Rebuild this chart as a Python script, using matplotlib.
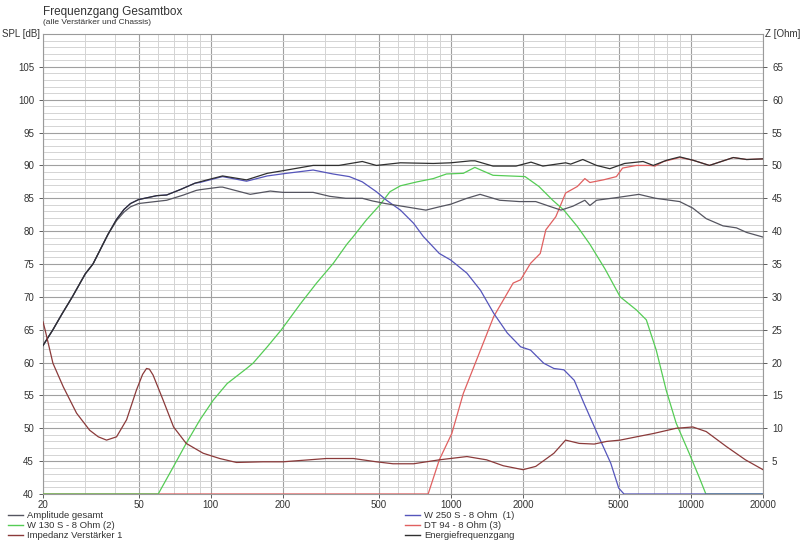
import matplotlib
matplotlib.use("Agg")
import matplotlib.pyplot as plt
from matplotlib.lines import Line2D
from matplotlib.ticker import FixedLocator, NullFormatter

plt.rcParams['font.family'] = ['Liberation Sans', 'DejaVu Sans']

# ---------------- data ----------------
xtick_vals = [20, 50, 100, 200, 500, 1000, 2000, 5000, 10000, 20000]
xtick_labels = ["20", "50", "100", "200", "500", "1000", "2000", "5000", "10000", "20000"]
spl_ticks = [40, 45, 50, 55, 60, 65, 70, 75, 80, 85, 90, 95, 100, 105]
z_ticks = [5, 10, 15, 20, 25, 30, 35, 40, 45, 50, 55, 60, 65]

# Energiefrequenzgang (upper total)
energie_f = [20, 22, 24, 26.5, 30, 32.3, 34, 37.3, 40.5, 43.5, 46.3, 50, 59.6, 65.5, 74.4, 86, 90, 99, 112, 141, 172, 200,
             267, 342, 428, 490, 617, 846, 1000, 1212, 1262, 1500, 1870, 2160, 2420, 3010, 3160, 3550,
             4050, 4600, 5300, 6330, 6980, 7950, 9000, 10200, 11960, 15040, 17100, 20000]
energie_db = [62.6, 65.0, 67.4, 70.0, 73.5, 75.0, 76.6, 79.5, 81.8, 83.3, 84.2, 84.8, 85.4, 85.5, 86.3, 87.3, 87.5, 87.9, 88.4,
              87.8, 88.8, 89.2, 90.0, 90.0, 90.6, 90.0, 90.4, 90.3, 90.4, 90.7, 90.7, 89.9, 89.9, 90.5, 89.9,
              90.4, 90.2, 90.9, 90.0, 89.5, 90.3, 90.6, 90.0, 90.8, 91.3, 90.8, 90.0, 91.2, 90.9, 91.0]

# Amplitude gesamt (lower total)
amp_f = [20, 22, 24, 26.5, 30, 32.3, 34, 37.3, 40.5, 43.5, 46.3, 50, 65.5, 77, 87, 90, 109, 112, 146, 177, 200, 267, 313,
         365, 428, 471, 534, 650, 788, 896, 1000, 1168, 1325, 1600, 1930, 2260, 2570, 2880, 3230, 3620,
         3800, 4050, 4900, 6080, 7130, 8990, 10200, 11600, 13630, 15500, 17100, 20000]
amp_db = [62.6, 65.0, 67.4, 70.0, 73.5, 75.0, 76.6, 79.5, 81.6, 82.9, 83.7, 84.2, 84.7, 85.5, 86.2, 86.3, 86.7, 86.7, 85.6,
          86.1, 85.9, 85.9, 85.3, 85.0, 85.0, 84.6, 84.2, 83.7, 83.2, 83.7, 84.1, 85.0, 85.6, 84.7, 84.5,
          84.5, 83.8, 83.2, 83.8, 84.7, 83.9, 84.7, 85.1, 85.6, 85.0, 84.5, 83.5, 81.9, 80.8, 80.5, 79.8, 79.1]

# W 250 S - 8 Ohm (1)
w250_f = [20, 22, 24, 26.5, 30, 32.3, 34, 37.3, 40.5, 43.5, 46.3, 50, 59.6, 65.5, 74.4, 86, 90, 99, 112, 141, 172, 207,
          267, 323, 378, 428, 490, 540, 617, 700, 768, 896, 1000, 1168, 1330, 1510, 1720, 1955, 2150,
          2440, 2690, 2960, 3270, 3590, 4080, 4640, 5010, 5270, 20000]
w250_db = [62.6, 65.0, 67.4, 70.0, 73.5, 75.0, 76.6, 79.5, 81.8, 83.3, 84.2, 84.8, 85.4, 85.5, 86.3, 87.3, 87.4, 87.8, 88.3,
           87.6, 88.4, 88.8, 89.3, 88.7, 88.3, 87.5, 86.0, 84.7, 83.2, 81.2, 79.2, 76.6, 75.6, 73.6, 71.0,
           67.5, 64.5, 62.4, 61.9, 59.9, 59.1, 58.9, 57.3, 53.8, 49.2, 44.7, 40.9, 40.0, 40.0]

# W 130 S - 8 Ohm (2)
w130_f = [20, 60.4, 70, 79, 90.2, 102.5, 117, 141, 150, 172, 197, 237, 276, 324, 369, 393, 445, 507, 558,
          617, 724, 846, 960, 1128, 1260, 1500, 2040, 2330, 2660, 2960, 3370, 3800, 4400, 5080, 5940,
          6530, 7180, 7900, 8690, 9850, 10830, 11560, 20000]
w130_db = [40.0, 40.0, 44.2, 47.7, 51.3, 54.3, 56.8, 59.1, 59.9, 62.4, 65.0, 69.0, 72.1, 75.1, 78.0, 79.2,
           81.7, 84.0, 86.0, 86.9, 87.5, 88.0, 88.7, 88.8, 89.7, 88.5, 88.3, 86.8, 84.7, 83.2, 80.7, 78.0,
           74.2, 70.0, 68.0, 66.5, 61.9, 55.8, 50.8, 46.2, 42.6, 40.0, 40.0]

# DT 94 - 8 Ohm (3)
dt94_f = [20, 805, 896, 1010, 1128, 1330, 1510, 1655, 1820, 1955, 2150, 2360, 2490, 2740, 3010, 3370,
          3620, 3800, 4320, 4900, 5200, 5940, 6750, 7100, 7700, 9000, 10200, 11960, 15040, 17100, 20000]
dt94_db = [40.0, 40.0, 45.2, 49.2, 55.3, 61.9, 67.0, 69.5, 72.1, 72.6, 75.1, 76.6, 80.2, 82.2, 85.8, 86.8,
           88.0, 87.4, 87.8, 88.3, 89.6, 90.0, 90.0, 89.9, 90.6, 91.2, 90.8, 90.0, 91.2, 90.9, 91.0]

# Impedanz Verstärker 1 (Ohm, right axis)
imp_f = [20, 20.4, 22, 24.3, 27.6, 31.3, 34, 36.8, 40.5, 44.6, 49, 52, 54, 55.5, 57.5, 63.3, 70, 79, 93, 109,
         128, 165, 200, 303, 393, 490, 575, 700, 896, 1168, 1410, 1655, 2000, 2260, 2690, 3010, 3430, 3960,
         4460, 5080, 5940, 6980, 8690, 10200, 11600, 14100, 16900, 20000]
imp_ohm = [26.2, 25.0, 19.9, 16.3, 12.3, 9.7, 8.7, 8.2, 8.7, 11.3, 15.8, 18.2, 19.1, 19.0, 18.1, 14.3, 10.2,
           7.7, 6.2, 5.4, 4.8, 4.9, 4.9, 5.4, 5.4, 4.9, 4.6, 4.6, 5.2, 5.7, 5.2, 4.3, 3.7, 4.2, 6.2, 8.2,
           7.7, 7.6, 8.0, 8.2, 8.7, 9.2, 10.0, 10.2, 9.5, 7.2, 5.2, 3.7]

# ---------------- figure ----------------
fig = plt.figure(figsize=(8.0, 5.42), dpi=100)
fig.patch.set_facecolor("white")
ax = fig.add_axes([43 / 800, 1 - 494 / 542, 720 / 800, 460 / 542])
ax.set_xscale("log")
ax.set_xlim(20, 20000)
ax.set_ylim(40, 110)

minor_x = [f * m for f in (10, 100, 1000, 10000) for m in range(2, 10)]
minor_x = [v for v in minor_x if 20 < v < 20000 and v not in xtick_vals]
ax.xaxis.set_major_locator(FixedLocator(xtick_vals))
ax.set_xticklabels(xtick_labels)
ax.xaxis.set_minor_locator(FixedLocator(minor_x))
ax.xaxis.set_minor_formatter(NullFormatter())
ax.yaxis.set_major_locator(FixedLocator(spl_ticks))
ax.yaxis.set_minor_locator(FixedLocator([v for v in range(40, 111) if v % 5 != 0]))

ax.grid(which="major", color="#a0a0a0", linewidth=0.8)
ax.grid(which="minor", color="#d4d4d4", linewidth=0.7)
ax.set_axisbelow(True)
ax.tick_params(which="major", labelsize=7, colors="#444444", length=3, width=0.6, labelcolor="#333333")
ax.tick_params(axis="x", which="major", pad=1.5)
ax.tick_params(which="minor", length=0)
for s in ax.spines.values():
    s.set_color("#9a9a9a")
    s.set_linewidth(0.8)

ax.plot(dt94_f, dt94_db, color="#e06060", lw=0.9, zorder=3)
ax.plot(w130_f, w130_db, color="#55cc55", lw=0.9, zorder=4)
ax.plot(w250_f, w250_db, color="#5555bb", lw=0.9, zorder=5)
ax.plot(amp_f, amp_db, color="#555560", lw=0.9, zorder=6)
ax.plot(energie_f, energie_db, color="#303030", lw=0.9, zorder=7)

ax2 = ax.twinx()
ax2.set_ylim(0, 70)
ax2.yaxis.set_major_locator(FixedLocator(z_ticks))
ax2.tick_params(labelsize=7, colors="#444444", length=3, width=0.6, labelcolor="#333333")
for s in ax2.spines.values():
    s.set_visible(False)
ax2.plot(imp_f, imp_ohm, color="#8b3a3a", lw=0.9, zorder=8)

# texts
fig.text(43 / 800, 1 - 12 / 542, "Frequenzgang Gesamtbox", fontsize=8.5, color="#333333", va="center", ha="left")
fig.text(43 / 800, 1 - 23 / 542, "(alle Verstärker und Chassis)", fontsize=6, color="#333333", va="center", ha="left")
fig.text(40 / 800, 1 - 34 / 542, "SPL [dB]", fontsize=7, color="#333333", va="center", ha="right")
fig.text(765 / 800, 1 - 34 / 542, "Z [Ohm]", fontsize=7, color="#333333", va="center", ha="left")

# legends
h_left = [Line2D([], [], color="#555560", lw=1),
          Line2D([], [], color="#55cc55", lw=1),
          Line2D([], [], color="#8b3a3a", lw=1)]
l_left = ["Amplitude gesamt", "W 130 S - 8 Ohm (2)", "Impedanz Verstärker 1"]
h_right = [Line2D([], [], color="#5555bb", lw=1),
           Line2D([], [], color="#e06060", lw=1),
           Line2D([], [], color="#303030", lw=1)]
l_right = ["W 250 S - 8 Ohm  (1)", "DT 94 - 8 Ohm (3)", "Energiefrequenzgang"]
common = dict(frameon=False, fontsize=6.8, handlelength=1.6, handletextpad=0.4, labelspacing=0.12,
              borderpad=0.0, borderaxespad=0.0, loc="upper left", labelcolor="#333333")
fig.legend(h_left, l_left, bbox_to_anchor=(8 / 800, 1 - 511 / 542), **common)
fig.legend(h_right, l_right, bbox_to_anchor=(405 / 800, 1 - 511 / 542), **common)

fig.savefig("out.png", dpi=100, facecolor="white")
